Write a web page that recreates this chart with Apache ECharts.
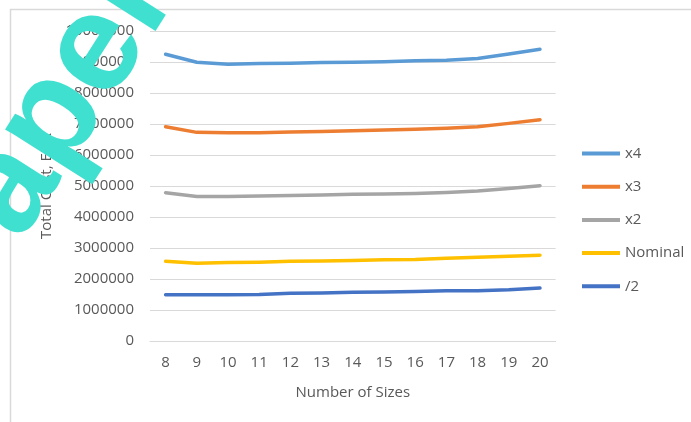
<!DOCTYPE html>
<html>
<head>
<meta charset="utf-8">
<script src="https://cdn.jsdelivr.net/npm/echarts@6/dist/echarts.min.js"></script>
<style>
  html, body { margin: 0; padding: 0; background: #ffffff; }
  #chart { width: 691px; height: 422px; }
</style>
</head>
<body>
<div id="chart"></div>
<script>
// Number of product sizes considered
const sizes = ['8', '9', '10', '11', '12', '13', '14', '15', '16', '17', '18', '19', '20'];

// Total cost (EUR) per demand scenario
const costX4 = [9250000, 8990000, 8930000, 8950000, 8960000, 8980000, 8990000, 9010000, 9040000, 9060000, 9110000, 9260000, 9410000];
const costX3 = [6910000, 6730000, 6720000, 6720000, 6740000, 6760000, 6780000, 6810000, 6830000, 6860000, 6910000, 7020000, 7140000];
const costX2 = [4780000, 4660000, 4660000, 4680000, 4690000, 4710000, 4730000, 4740000, 4760000, 4790000, 4840000, 4920000, 5010000];
const costNominal = [2570000, 2510000, 2530000, 2540000, 2570000, 2580000, 2600000, 2620000, 2630000, 2670000, 2700000, 2730000, 2770000];
const costHalf = [1490000, 1490000, 1490000, 1500000, 1540000, 1550000, 1570000, 1580000, 1600000, 1620000, 1620000, 1650000, 1710000];

const seriesNames = ['x4', 'x3', 'x2', 'Nominal', '/2'];
const seriesColors = ['#5B9BD5', '#ED7D31', '#A5A5A5', '#FFC000', '#4472C4'];
const seriesValues = [costX4, costX3, costX2, costNominal, costHalf];

const yTicks = { min: 0, max: 10000000, step: 1000000 };

const font = '"Open Sans", "Liberation Sans", sans-serif';
const labelColor = '#595959';
const gridColor = '#D9D9D9';

const chart = echarts.init(document.getElementById('chart'), null, { renderer: 'canvas' });

const angle = 57.5 * Math.PI / 180;

chart.setOption({
  backgroundColor: '#ffffff',
  animation: false,
  grid: { left: 150, right: 135.4, top: 31, bottom: 81, containLabel: false },
  legend: {
    orient: 'vertical',
    left: 582,
    top: 146,
    padding: 0,
    icon: 'rect',
    itemWidth: 38,
    itemHeight: 4,
    itemGap: 18.2,
    data: seriesNames,
    textStyle: { color: labelColor, fontFamily: font, fontSize: 15 }
  },
  xAxis: {
    type: 'category',
    data: sizes,
    boundaryGap: true,
    name: 'Number of Sizes',
    nameLocation: 'middle',
    nameGap: 44,
    nameTextStyle: { color: labelColor, fontFamily: font, fontSize: 15 },
    axisLine: { show: true, lineStyle: { color: gridColor, width: 1 } },
    axisTick: { show: false },
    axisLabel: { color: labelColor, fontFamily: font, fontSize: 15, margin: 14 },
    splitLine: { show: false }
  },
  yAxis: {
    type: 'value',
    min: yTicks.min,
    max: yTicks.max,
    interval: yTicks.step,
    name: 'Total Cost, EUR',
    nameLocation: 'middle',
    nameGap: 94,
    nameTextStyle: { color: labelColor, fontFamily: font, fontSize: 15 },
    axisLine: { show: false },
    axisTick: { show: false },
    axisLabel: { color: labelColor, fontFamily: font, fontSize: 15, margin: 16, formatter: v => String(v) },
    splitLine: { show: true, lineStyle: { color: gridColor, width: 1 } }
  },
  series: seriesNames.map((name, i) => ({
    name: name,
    type: 'line',
    data: seriesValues[i],
    symbol: 'none',
    smooth: false,
    color: seriesColors[i],
    lineStyle: { color: seriesColors[i], width: 3.5, cap: 'round', join: 'round' },
    z: 10 - i
  })),
  graphic: [
    {
      type: 'rect',
      shape: { x: 10.5, y: 9.5, width: 720, height: 440 },
      style: { fill: 'none', stroke: gridColor, lineWidth: 1.5 },
      silent: true,
      z: -10
    },
    {
      type: 'text',
      x: -12,
      y: 222,
      rotation: angle,
      style: {
        text: 'apel',
        fontSize: 140,
        fontWeight: 'bold',
        fontFamily: '"Liberation Sans", Arial, sans-serif',
        fill: '#40E0D0',
        verticalAlign: 'middle',
        align: 'left'
      },
      silent: true,
      z: 100
    }
  ]
});
</script>
</body>
</html>
